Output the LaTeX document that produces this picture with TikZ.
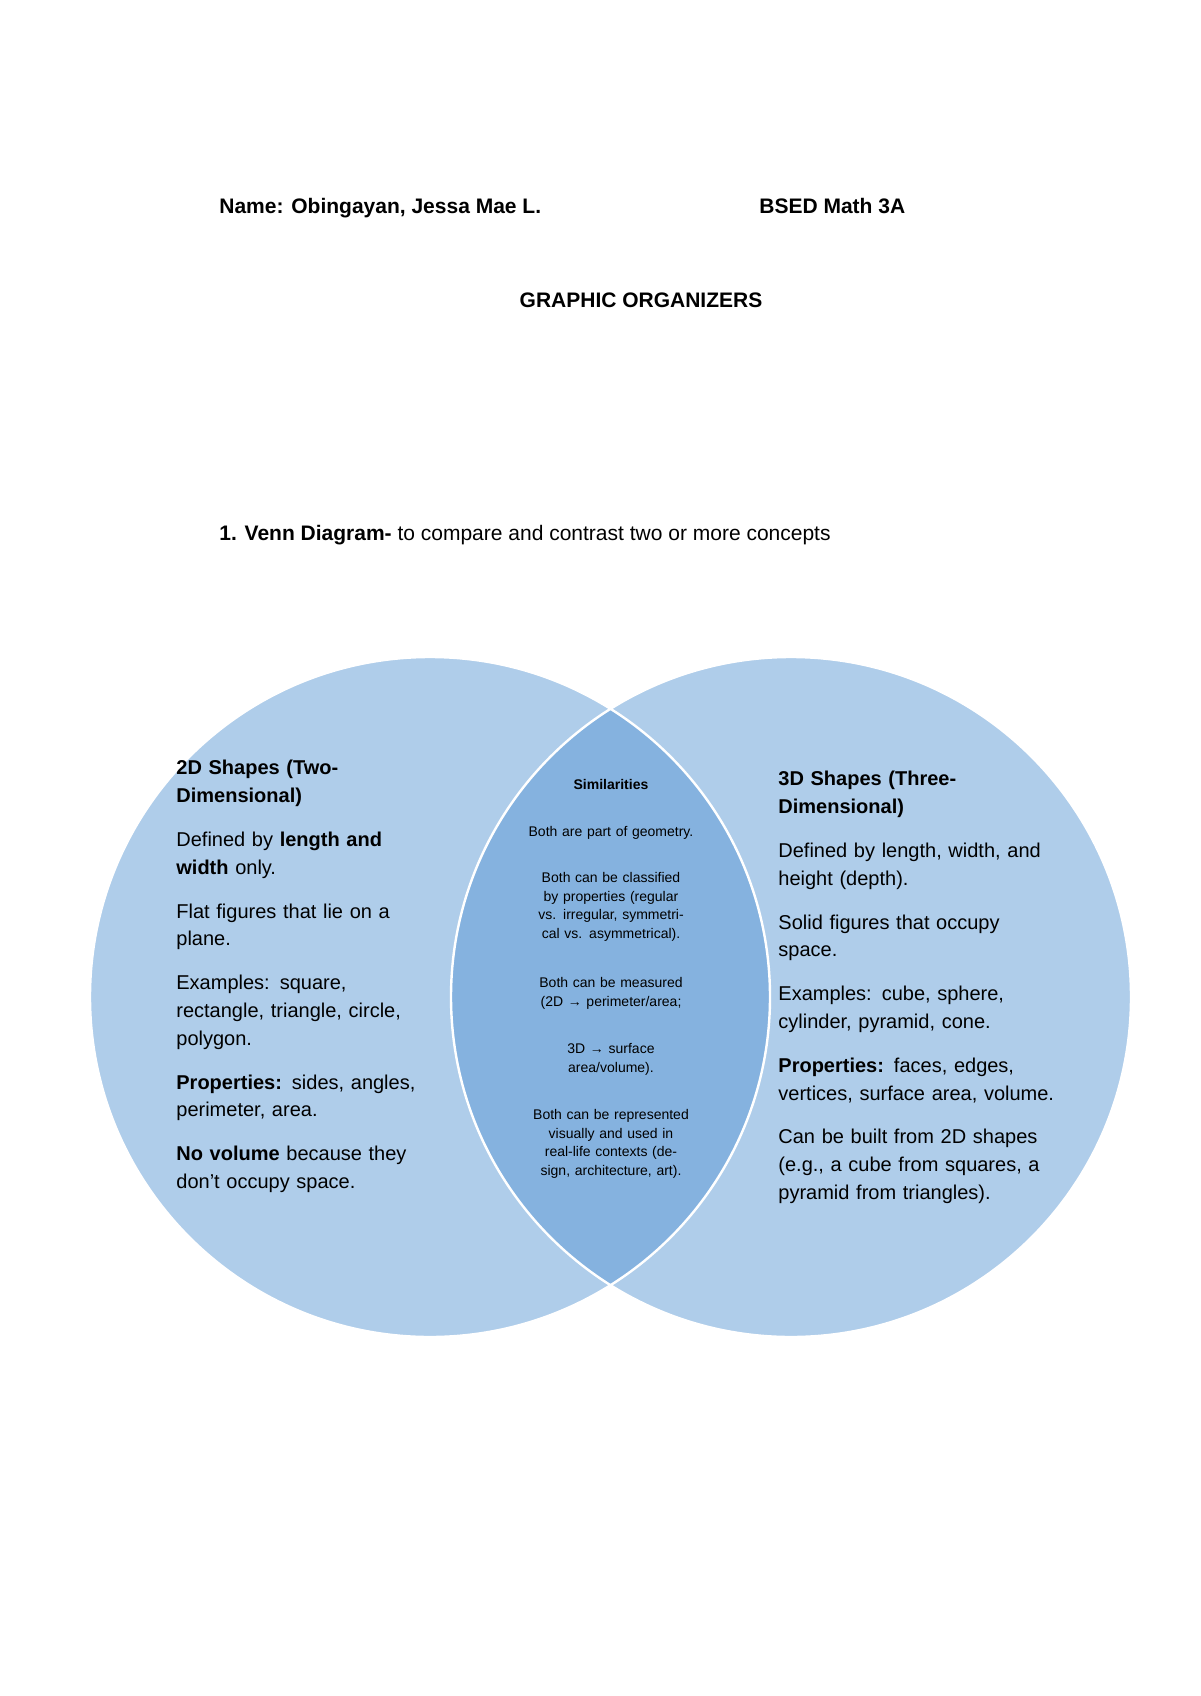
\documentclass[tikz,border=0pt]{standalone}
\usepackage{fontspec}
\setmainfont{Liberation Sans}
\begin{document}
\begin{tikzpicture}[x=0.5pt,y=-0.5pt,
  body/.style={anchor=north west,inner sep=0pt,align=left,font=\fontsize{10}{13.9}\selectfont},
  sim/.style={anchor=north,inner sep=0pt,align=center,text width=96pt,font=\fontsize{7}{9.3}\selectfont},
  hdr/.style={anchor=base west,inner sep=0pt,font=\fontsize{10.5}{13}\selectfont}]
\useasboundingbox (0,0) rectangle (1200,1696);
\definecolor{circlight}{HTML}{AFCDEA}
\definecolor{circmid}{HTML}{85B2DF}
\coordinate (L) at (430,997);
\coordinate (R) at (791,997);
\fill[circlight] (L) circle[radius=170pt];
\fill[circlight] (R) circle[radius=170pt];
\begin{scope}
\clip (L) circle[radius=170pt];
\fill[circmid] (R) circle[radius=170pt];
\end{scope}
\draw[white,line width=1.2pt] (L) circle[radius=170pt];
\draw[white,line width=1.2pt] (R) circle[radius=170pt];

\node[hdr] (name) at (219,214) {\textbf{Name: Obingayan, Jessa Mae L.}};
\node[hdr] (cls) at (759,214) {\textbf{BSED Math 3A}};
\node[anchor=base,inner sep=0pt,font=\fontsize{10.5}{13}\selectfont] (title) at (641,307) {\textbf{GRAPHIC ORGANIZERS}};
\node[hdr] (venn) at (219,540) {\textbf{1. Venn Diagram-} to compare and contrast two or more concepts};

\node[body,text width=132pt] (left) at (176,760) {\textbf{2D Shapes (Two-\\Dimensional)}\\[8pt]
Defined by \textbf{length and}\\\textbf{width} only.\\[8pt]
Flat figures that lie on a\\plane.\\[8pt]
Examples: square,\\rectangle, triangle, circle,\\polygon.\\[8pt]
\textbf{Properties:} sides, angles,\\perimeter, area.\\[8pt]
\textbf{No volume} because they\\don't occupy space.};

\node[body,text width=155pt] (right) at (778,771) {\textbf{3D Shapes (Three-\\Dimensional)}\\[8pt]
Defined by length, width, and\\height (depth).\\[8pt]
Solid figures that occupy\\space.\\[8pt]
Examples: cube, sphere,\\cylinder, pyramid, cone.\\[8pt]
\textbf{Properties:} faces, edges,\\vertices, surface area, volume.\\[8pt]
Can be built from 2D shapes\\(e.g., a cube from squares, a\\pyramid from triangles).};

\node[sim] (s0) at (611,779) {\textbf{Similarities}};
\node[sim] (s1) at (611,826) {Both are part of geometry.};
\node[sim] (s2) at (611,872) {Both can be classified by properties (regular vs. irregular, symmetrical vs. asymmetrical).};
\node[sim] (s3) at (611,977) {Both can be measured\\(2D → perimeter/area;};
\node[sim] (s4) at (611,1043) {3D → surface\\area/volume).};
\node[sim] (s5) at (611,1109) {Both can be represented visually and used in real-life contexts (design, architecture, art).};
\end{tikzpicture}
\end{document}
